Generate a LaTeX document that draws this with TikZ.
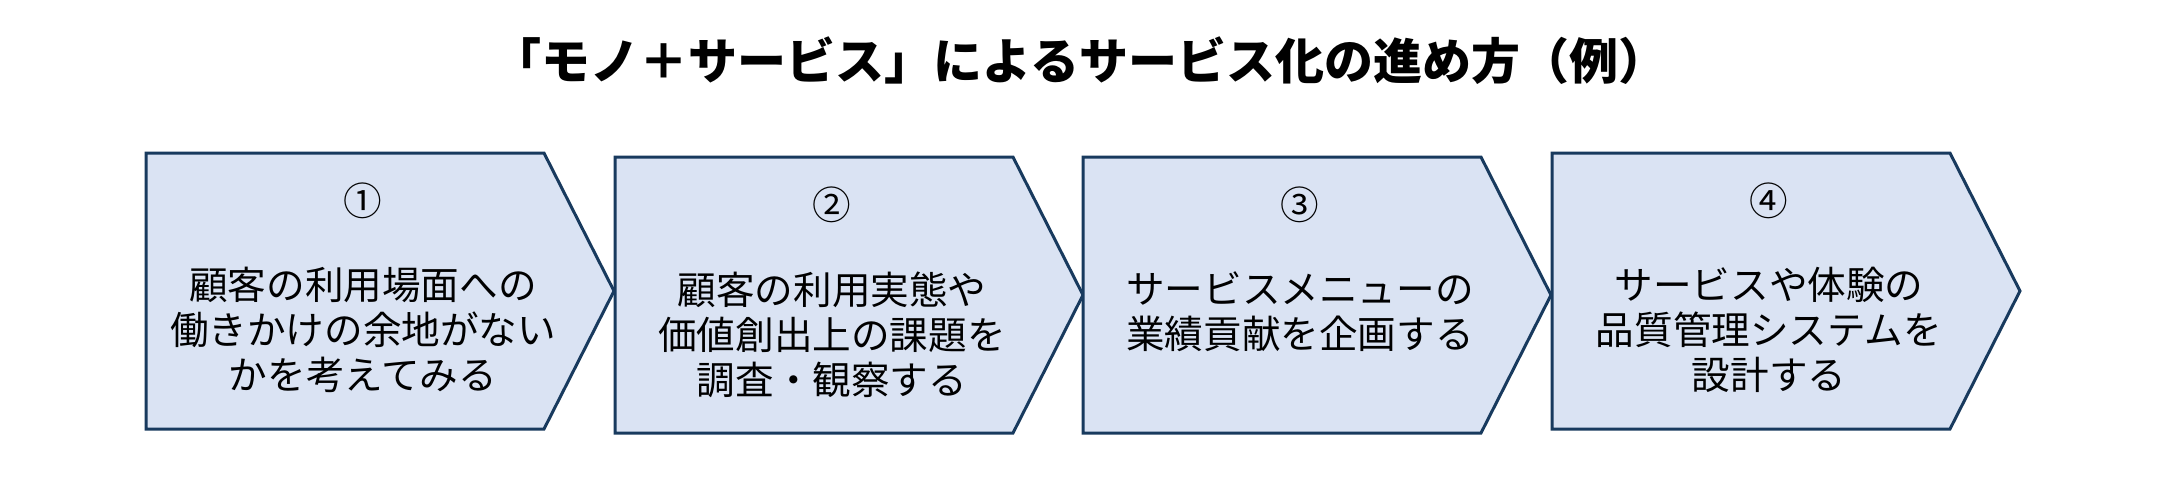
\documentclass[tikz,border=0pt]{standalone}
\usepackage{fontspec}
\setmainfont{Noto Sans CJK JP}
\usetikzlibrary{positioning}
\definecolor{stepfill}{HTML}{DAE3F3}
\definecolor{stepline}{HTML}{183A5E}
\tikzset{
  stepshape/.style={draw=stepline, fill=stepfill, line width=1.5pt, line join=miter},
  stepnum/.style={font=\fontsize{19.3}{22.5}\selectfont, inner sep=0pt},
  steptext/.style={font=\fontsize{19.3}{22.5}\selectfont, align=center, inner sep=0pt, anchor=north},
}

\begin{document}
\begin{tikzpicture}[x=0.5pt,y=-0.5pt]
  % Fix the page to the reference size
  \useasboundingbox (0,0) rectangle (2160,500);
  % Title
  \node[font=\fontsize{24.5}{28}\selectfont\bfseries] (title) at (1080,61) {「モノ＋サービス」によるサービス化の進め方（例）};
  % Body width, tip width and height of a chevron
  \def\bodyw{398}
  \def\tipw{70}
  \def\stepht{276}
  % The four chevrons: left x / top y / name / number / text
  \foreach \x/\y/\n/\num/\txt in {
      146/153/one/①/{顧客の利用場面への\\働きかけの余地がない\\かを考えてみる},
      615/157/two/②/{顧客の利用実態や\\価値創出上の課題を\\調査・観察する},
      1083/157/three/③/{サービスメニューの\\業績貢献を企画する},
      1552/153/four/④/{サービスや体験の\\品質管理システムを\\設計する}} {
    \draw[stepshape] (\x,\y) -- ++(\bodyw,0) -- ++(\tipw,\stepht/2) -- ++(-\tipw,\stepht/2) -- ++(-\bodyw,0) -- cycle;
    \node[stepnum] (num-\n) at (\x+217,\y+48) {\num};
    \node[steptext] (txt-\n) at (\x+217,\y+114) {\txt};
  }
\end{tikzpicture}
\end{document}
